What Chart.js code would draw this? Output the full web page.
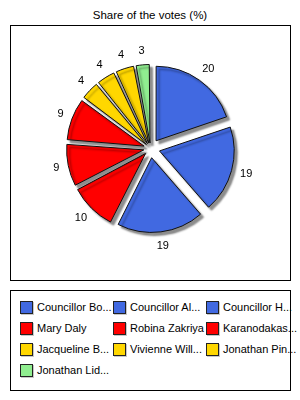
<!DOCTYPE html>
<html>
<head>
<meta charset="utf-8">
<script src="https://cdn.jsdelivr.net/npm/chart.js@4.4.1/dist/chart.umd.min.js"></script>
<style>
  body { margin: 0; width: 300px; height: 400px; background: #fff; position: relative; overflow: hidden;
         font-family: "Liberation Sans", Arial, sans-serif; color: #000; }
  #title { position: absolute; left: 0; top: 9px; width: 300px; text-align: center; font-size: 11.5px; }
  #plot-box { position: absolute; left: 10px; top: 25px; width: 279px; height: 254px; border: 1px solid #000; }
  #legend-box { position: absolute; left: 10px; top: 290px; width: 279px; height: 99px; border: 1px solid #000; }
  .item { position: absolute; height: 13px; font-size: 11px; white-space: nowrap; }
  .swatch { position: absolute; left: 0; top: 0; width: 11px; height: 11px; border: 1px solid #222;
            box-shadow: 1px 1px 0 #c8c8c8; }
  .text { position: absolute; left: 17px; top: 0; line-height: 13px; }
</style>
</head>
<body>
<div id="title">Share of the votes (%)</div>
<div id="plot-box"><canvas id="pie" width="279" height="254"></canvas></div>
<div id="legend-box"></div>

<script>
const labels = [
  "Councillor Bo...", "Councillor Al...", "Councillor H...",
  "Mary Daly", "Robina Zakriya", "Karanodakas...",
  "Jacqueline B...", "Vivienne Will...", "Jonathan Pin...",
  "Jonathan Lid..."
];
const votes = [20, 19, 19, 10, 9, 9, 4, 4, 4, 3];
const colors = [
  "#4169E1", "#4169E1", "#4169E1",
  "#FF0000", "#FF0000", "#FF0000",
  "#FFD700", "#FFD700", "#FFD700",
  "#90EE90"
];

const RADIUS = 74;
const EXPLODE = 10;

// chart.js scales the offset by slice size, undo that so every slice moves the same distance
const total = votes.reduce((a, b) => a + b, 0);
const offsets = votes.map((v) => {
  const circ = (v / total) * Math.PI * 2;
  return (4 * EXPLODE) / (2 - Math.sin(Math.min(Math.PI, circ)));
});

const shadowAndLabels = {
  id: "shadowAndLabels",
  beforeDatasetsDraw(chart) {
    const ctx = chart.ctx;
    ctx.save();
    ctx.shadowColor = "rgba(0,0,0,0.45)";
    ctx.shadowBlur = 2;
    ctx.shadowOffsetX = 3;
    ctx.shadowOffsetY = 3;
  },
  afterDatasetsDraw(chart) {
    const ctx = chart.ctx;
    ctx.restore();

    const meta = chart.getDatasetMeta(0);
    ctx.save();
    ctx.font = '11px "Liberation Sans", Arial, sans-serif';
    ctx.fillStyle = "#000";
    ctx.textAlign = "center";
    ctx.textBaseline = "middle";
    meta.data.forEach((arc, i) => {
      const p = arc.getProps(["x", "y", "startAngle", "endAngle", "outerRadius"]);
      const mid = (p.startAngle + p.endAngle) / 2;
      const text = String(votes[i]);
      const w = ctx.measureText(text).width;
      const d = p.outerRadius + EXPLODE + 9;
      const x = p.x + Math.cos(mid) * d + Math.cos(mid) * w / 2;
      const y = p.y + Math.sin(mid) * d + Math.sin(mid) * 5;
      ctx.fillText(text, x, y);
    });
    ctx.restore();
  }
};

const chart = new Chart(document.getElementById("pie"), {
  type: "pie",
  data: {
    labels,
    datasets: [{
      data: votes,
      backgroundColor: colors,
      borderColor: "#111",
      borderWidth: 1,
      offset: offsets,
      radius: RADIUS
    }]
  },
  options: {
    responsive: false,
    animation: false,
    events: [],
    layout: { padding: { top: 0, bottom: 9, left: 0, right: 0 } },
    plugins: {
      legend: { display: false },
      tooltip: { enabled: false }
    }
  },
  plugins: [shadowAndLabels]
});

function fillLegend() {
  const box = document.getElementById("legend-box");
  labels.forEach((name, i) => {
    const col = i % 3;
    const row = Math.floor(i / 3);
    const item = document.createElement("div");
    item.className = "item";
    item.style.left = (9 + col * 93) + "px";
    item.style.top = (10 + row * 21) + "px";
    item.innerHTML = `<div class="swatch" style="background:${colors[i]}"></div><span class="text">${name}</span>`;
    box.appendChild(item);
  });
}

fillLegend();
</script>
</body>
</html>
